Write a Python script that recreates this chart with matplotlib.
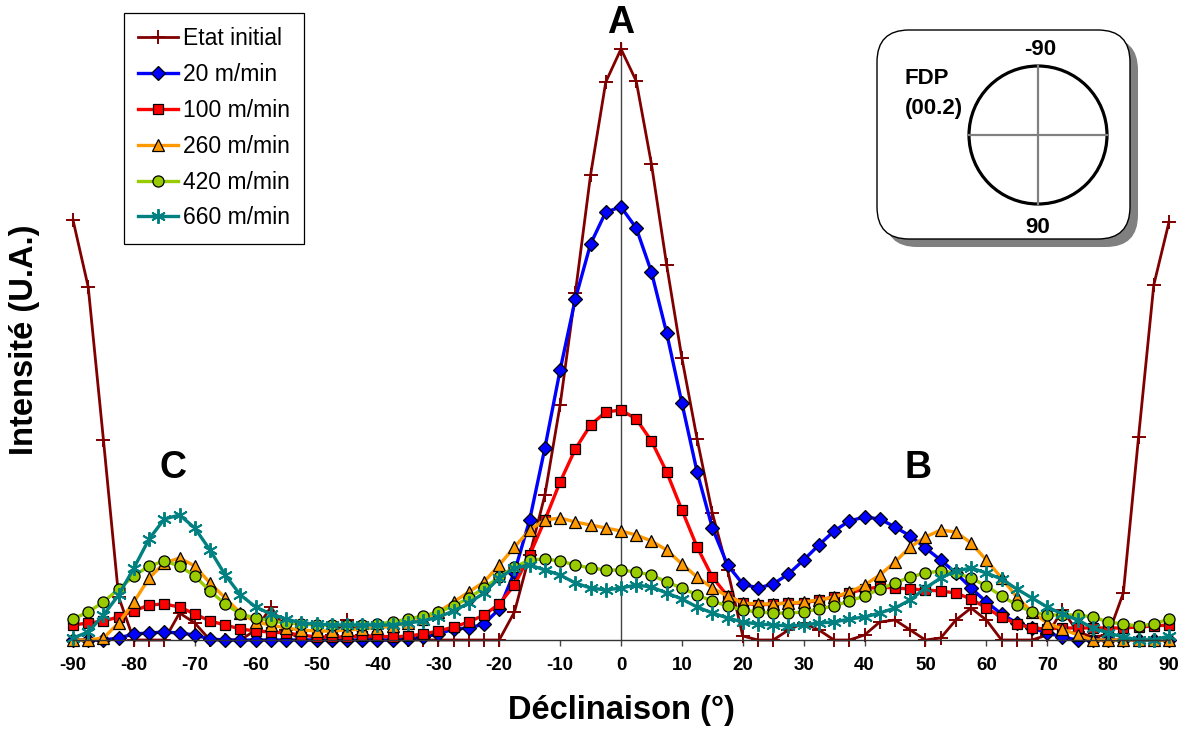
import numpy as np
import matplotlib
matplotlib.use('Agg')
import matplotlib.pyplot as plt
from matplotlib.patches import FancyBboxPatch, Circle

plt.rcParams['font.family'] = ['Liberation Sans', 'DejaVu Sans']
plt.rcParams['axes.unicode_minus'] = False

# declination axis, one point every 2.5 degrees
decl = np.arange(-90, 90.1, 2.5)

etat_initial = [
    420, 353, 200, 43, 0, 0, 0, 27, 17, 0, 0, 0, 10, 33, 10, 0, 0, 5, 20, 5,
    0, 0, 0, 0, 0, 0, 0, 0, 0, 28, 85, 145, 235, 347, 465, 558, 591,
    559, 476, 375, 282, 201, 127, 70, 4, 0, 0, 10, 17, 10, 0, 0, 5, 18, 20,
    10, 0, 2, 20, 32, 20, 0, 0, 0, 5, 30, 8, 3, 5, 47, 203, 355, 418,
]
v20 = [
    0, 0, 0, 2, 6, 7, 8, 7, 5, 1, 0, 0, 0, 0, 0, 0, 0, 0, 0, 0,
    0, 0, 1, 3, 6, 11, 12, 16, 31, 68, 120, 192, 270, 341, 396, 428, 433,
    412, 368, 307, 237, 168, 112, 75, 56, 52, 56, 66, 80, 95, 109, 119, 123, 121, 113,
    104, 92, 80, 67, 52, 38, 26, 17, 12, 7, 3, 0, 0, 0, 0, 0, 0, 0,
]
v100 = [
    15, 17, 19, 23, 29, 35, 36, 33, 26, 19, 15, 11, 9, 8, 7, 5, 3, 3, 3, 4,
    4, 3, 4, 6, 9, 13, 18, 25, 36, 55, 85, 120, 158, 191, 215, 228, 230,
    221, 199, 168, 130, 93, 63, 44, 37, 35, 36, 37, 37, 40, 43, 47, 51, 53, 52,
    51, 50, 49, 47, 41, 32, 23, 16, 12, 11, 12, 12, 12, 12, 12, 13, 14, 15,
]
v260 = [
    0, 0, 2, 17, 38, 62, 77, 82, 74, 57, 42, 27, 18, 15, 12, 10, 9, 9, 10, 11,
    12, 14, 17, 21, 28, 38, 48, 58, 75, 93, 110, 120, 122, 118, 115, 112, 109,
    105, 99, 90, 76, 63, 52, 44, 37, 36, 36, 37, 38, 40, 43, 48, 55, 65, 78,
    93, 103, 110, 108, 97, 80, 62, 43, 28, 17, 11, 5, 0, 0, 0, 0, 0, 0,
]
v420 = [
    21, 28, 38, 51, 64, 74, 79, 74, 64, 49, 36, 26, 22, 19, 17, 16, 15, 15, 15, 15,
    16, 18, 21, 24, 28, 34, 42, 52, 63, 73, 80, 81, 79, 75, 72, 70, 70,
    68, 65, 58, 52, 45, 39, 34, 30, 28, 27, 27, 28, 31, 34, 39, 44, 51, 57,
    63, 67, 69, 67, 62, 54, 44, 35, 28, 25, 25, 25, 23, 18, 16, 14, 16, 21,
]
v660 = [
    2, 8, 25, 45, 72, 101, 121, 125, 112, 90, 65, 45, 33, 26, 21, 17, 16, 15, 15, 15,
    15, 15, 17, 19, 23, 29, 37, 47, 62, 72, 75, 70, 65, 57, 52, 50, 52,
    55, 53, 47, 41, 33, 27, 22, 18, 16, 15, 14, 15, 17, 18, 21, 23, 27, 32,
    40, 52, 62, 69, 72, 67, 61, 51, 42, 33, 26, 20, 12, 7, 3, 0, 0, 4,
]

labels = ['Etat initial', '20 m/min', '100 m/min', '260 m/min', '420 m/min', '660 m/min']
series = [etat_initial, v20, v100, v260, v420, v660]

# color, marker, marker size, linewidth
STYLES = [
    ('#800000', '+', 10, 2.0),
    ('#0000FF', 'D', 7, 2.4),
    ('#FF0000', 's', 7.5, 2.4),
    ('#FF9900', '^', 8.5, 2.4),
    ('#99CC00', 'o', 8, 2.4),
    ('#008080', (6, 2, 0), 10.5, 2.4),
]

W, H = 1184, 729
fig = plt.figure(figsize=(W / 100, H / 100), dpi=100)
ax = fig.add_axes([73 / W, 89 / H, 1096 / W, 597 / H])

for vals, label, (color, marker, ms, lw) in zip(series, labels, STYLES):
    if marker == '+' or isinstance(marker, tuple):
        ax.plot(decl, vals, color=color, lw=lw, marker=marker, ms=ms,
                mew=1.4, label=label, clip_on=False)
    else:
        ax.plot(decl, vals, color=color, lw=lw, marker=marker, ms=ms,
                mfc=color, mec='black', mew=0.9, label=label, clip_on=False)

ax.axvline(0, color='#444444', lw=1, zorder=1)
ax.set_xlim(-90, 90)
ax.set_ylim(0, 597)
ax.set_yticks([])
ax.set_xticks(np.arange(-90, 91, 10))
ax.tick_params(axis='x', direction='out', length=4, width=1, color='#444444',
               pad=8, labelsize=13.5)
for t in ax.get_xticklabels():
    t.set_fontweight('bold')
for s in ['left', 'top', 'right']:
    ax.spines[s].set_visible(False)
ax.spines['bottom'].set_color('#333333')
ax.spines['bottom'].set_linewidth(1)
ax.patch.set_alpha(0)

fig.text(621 / W, 1 - 710 / H, 'Déclinaison (°)', ha='center', va='center',
         fontsize=23.5, fontweight='bold')
fig.text(25 / W, 1 - 340 / H, 'Intensité (U.A.)', ha='center', va='center',
         rotation=90, fontsize=23.5, fontweight='bold')

# peak labels
ax.text(0, 617, 'A', ha='center', va='center', fontsize=27, fontweight='bold', clip_on=False)
ax.text(48.8, 172, 'B', ha='center', va='center', fontsize=27, fontweight='bold')
ax.text(-73.6, 172, 'C', ha='center', va='center', fontsize=27, fontweight='bold')

leg = ax.legend(loc='upper left', bbox_to_anchor=(124 / W, 1 - 13 / H),
                bbox_transform=fig.transFigure, borderaxespad=0, fontsize=16.5,
                fancybox=False, edgecolor='black', framealpha=1,
                labelspacing=0.56, handlelength=1.75, handletextpad=0.2,
                borderpad=0.62)
leg.get_frame().set_linewidth(0.9)

# pole figure inset
ov = fig.add_axes([0, 0, 1, 1], zorder=5)
ov.set_xlim(0, W)
ov.set_ylim(H, 0)
ov.axis('off')
ov.add_patch(FancyBboxPatch((885, 38), 253, 209,
                            boxstyle='round,pad=0,rounding_size=32',
                            fc='#808080', ec='none'))
ov.add_patch(FancyBboxPatch((877, 30), 253, 209,
                            boxstyle='round,pad=0,rounding_size=32',
                            fc='white', ec='black', lw=1))
cx, cy, r = 1038, 135, 69
ov.plot([cx - r, cx + r], [cy, cy], color='#808080', lw=1.6)
ov.plot([cx, cx], [cy - r, cy + r], color='#808080', lw=1.6)
ov.add_patch(Circle((cx, cy), r, fc='none', ec='black', lw=2.3))
ov.text(cx + 2, cy - 86, '-90', ha='center', va='center', fontsize=16, fontweight='bold')
ov.text(cx, cy + 92, '90', ha='center', va='center', fontsize=16, fontweight='bold')
ov.text(905, 78, 'FDP', ha='left', va='center', fontsize=16, fontweight='bold')
ov.text(905, 108, '(00.2)', ha='left', va='center', fontsize=16, fontweight='bold')

fig.savefig('out.png', dpi=100)
